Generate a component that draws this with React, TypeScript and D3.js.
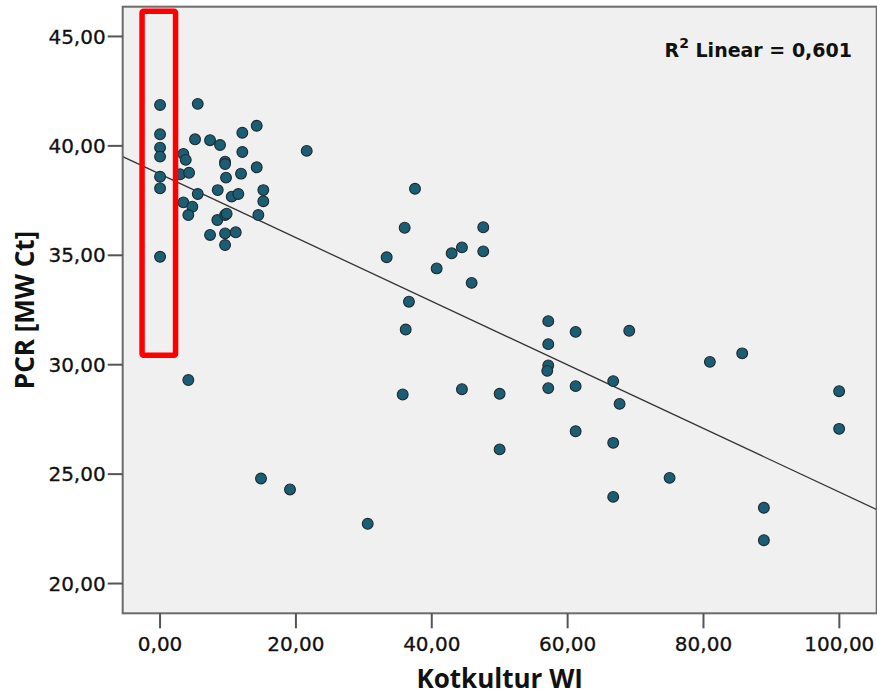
import React from "react";
import * as d3 from "d3";

const width = 877;
const height = 695;
const margin = { top: 6.7, right: 0.3, bottom: 81.7, left: 122.7 };

// Kotkultur WI (x) and PCR [MW Ct] (y)
const kotkultur = [
  0, 0, 0, 0, 0, 0, 0,
  5.55, 5.15, 7.36, 8.83, 12.11, 14.23, 21.59, 3.43, 3.78, 2.94, 4.27, 9.57, 9.57,
  9.71, 12.11, 14.23, 11.92, 15.2, 15.2, 5.55, 8.49, 10.55, 11.52, 3.43, 4.75,
  4.16, 8.43, 9.57, 9.8, 14.47, 7.36, 9.57, 11.14, 9.57, 4.16, 14.86, 19.13, 30.57,
  37.53, 36.01, 47.58, 33.36, 42.93, 44.44, 47.58, 40.72, 45.87, 36.64, 36.16,
  35.72, 44.44, 49.99, 49.99,
  57.15, 57.15, 57.15, 57.0, 57.15,
  61.18, 69.07, 61.18, 66.71, 67.65, 61.18, 66.71, 75.01, 66.71, 80.94, 85.7,
  99.97, 99.97, 88.89, 88.89,
];
const pcr = [
  41.87, 40.53, 39.92, 39.51, 38.59, 38.06, 34.93,
  41.92, 40.3, 40.26, 40.04, 40.6, 40.92, 39.77, 39.63, 39.36, 38.7, 38.77, 39.28, 39.17,
  38.55, 39.72, 39.02, 38.73, 37.98, 37.47, 37.8, 37.98, 37.68, 37.8, 37.42, 37.22,
  36.84, 36.61, 36.84, 36.9, 36.84, 35.93, 36.0, 36.05, 35.47, 29.3, 24.8, 24.3, 22.73,
  38.04, 36.26, 36.28, 34.91, 35.09, 35.36, 35.18, 34.4, 33.74, 32.88, 31.61,
  28.64, 28.88, 28.67, 26.13,
  31.99, 30.94, 29.97, 29.72, 28.93,
  31.5, 31.55, 29.02, 29.25, 28.21, 26.96, 26.43, 24.83, 23.96, 30.13, 30.52,
  28.79, 27.07, 23.46, 21.98,
];

const xTicks = [0, 20, 40, 60, 80, 100];
const yTicks = [20, 25, 30, 35, 40, 45];
const xDomain = [-5.5, 105.5];
const yDomain = [18.64, 46.36];

// linear fit (R² = 0,601)
const fitIntercept = 38.71;
const fitSlope = -0.1453;
const r2Text = "0,601";

// highlighted region (data units)
const highlightX = [-2.65, 2.28];
const highlightY = [30.43, 46.15];

const fmt = (v: number) => v.toFixed(2).replace(".", ",");

export default function App() {
  const x = d3
    .scaleLinear()
    .domain(xDomain)
    .range([margin.left, width - margin.right]);
  const y = d3
    .scaleLinear()
    .domain(yDomain)
    .range([height - margin.bottom, margin.top]);

  const points = kotkultur.map((d, i) => ({ x: x(d), y: y(pcr[i]) }));

  const fitLine = d3
    .line<number>()
    .x((d) => x(d))
    .y((d) => y(fitIntercept + fitSlope * d))(xDomain);

  const plotW = x(xDomain[1]) - x(xDomain[0]);
  const plotH = y(yDomain[0]) - y(yDomain[1]);
  const bottom = y(yDomain[0]);
  const left = x(xDomain[0]);

  return (
    <svg
      width={width}
      height={height}
      style={{ position: "absolute", left: 0, top: 0, background: "#fff" }}
    >
      <rect
        x={left}
        y={y(yDomain[1])}
        width={plotW}
        height={plotH}
        fill="#f0f0f0"
      />
      <path d={fitLine || ""} stroke="#333" strokeWidth={1.3} fill="none" />
      {points.map((d, i) => (
        <circle
          key={i}
          cx={d.x}
          cy={d.y}
          r={5.4}
          fill="#1b5e74"
          stroke="#1c2a30"
          strokeWidth={1.1}
        />
      ))}
      <rect
        x={left}
        y={y(yDomain[1])}
        width={plotW}
        height={plotH}
        fill="none"
        stroke="#6b6b6b"
        strokeWidth={2}
      />
      {/* y axis */}
      {yTicks.map((t) => (
        <g key={t} transform={`translate(0, ${y(t)})`}>
          <line x1={left - 15} x2={left} stroke="#555" strokeWidth={2} />
          <text
            x={left - 17}
            dy="0.36em"
            textAnchor="end"
            fontFamily="DejaVu Sans"
            fontSize={20}
            fill="#111"
            stroke="#111"
            strokeWidth={0.3}
          >
            {fmt(t)}
          </text>
        </g>
      ))}
      {/* x axis */}
      {xTicks.map((t) => (
        <g key={t} transform={`translate(${x(t)}, 0)`}>
          <line y1={bottom} y2={bottom + 15} stroke="#555" strokeWidth={2} />
          <text
            y={bottom + 38}
            textAnchor="middle"
            fontFamily="DejaVu Sans"
            fontSize={20}
            fill="#111"
            stroke="#111"
            strokeWidth={0.3}
          >
            {fmt(t)}
          </text>
        </g>
      ))}
      <text
        x={left + plotW / 2}
        y={688}
        textAnchor="middle"
        fontFamily="Open Sans"
        fontWeight="bold"
        fontSize={26}
        fill="#111"
      >
        Kotkultur WI
      </text>
      <text
        transform={`translate(34, ${y(yDomain[1]) + plotH / 2}) rotate(-90)`}
        textAnchor="middle"
        fontFamily="Open Sans"
        fontWeight="bold"
        fontSize={26}
        fill="#111"
      >
        PCR [MW Ct]
      </text>
      <text
        x={852}
        y={57}
        textAnchor="end"
        fontFamily="DejaVu Sans"
        fontWeight="bold"
        fontSize={19}
        fill="#111"
      >
        R<tspan dy={-9} fontSize={14}>2</tspan>
        <tspan dy={9}> Linear = {r2Text}</tspan>
      </text>
      <rect
        x={x(highlightX[0])}
        y={y(highlightY[1])}
        width={x(highlightX[1]) - x(highlightX[0])}
        height={y(highlightY[0]) - y(highlightY[1])}
        fill="none"
        stroke="#ff0000"
        strokeWidth={5.5}
        rx={1.5}
      />
    </svg>
  );
}
